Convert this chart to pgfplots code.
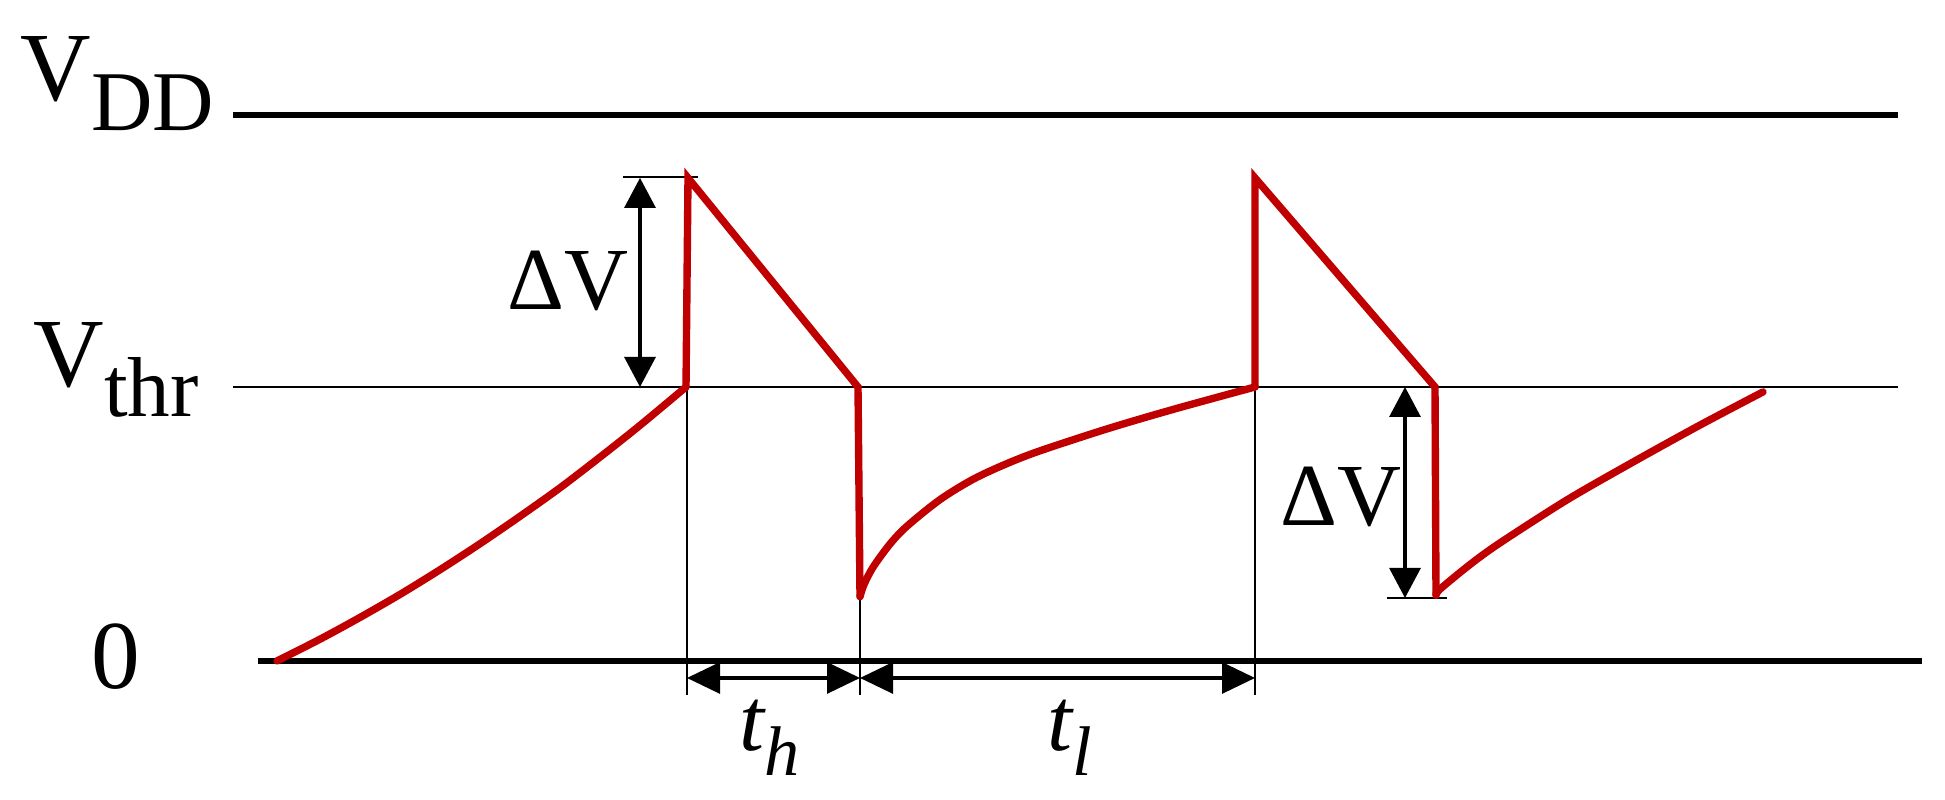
\documentclass[border=0pt]{standalone}
\usepackage{pgfplots}
\pgfplotsset{compat=1.18}
\usepackage{fontspec}
\setmainfont{Liberation Serif}
\usetikzlibrary{arrows.meta}

\definecolor{wave}{RGB}{192,0,0}

% x in picture units (0.1 mm), y in "volts": 0 = ground, 1 = Vthr, ~2 = VDD
\begin{document}
\begin{tikzpicture}
\begin{axis}[
    name=ax,
    width=19.45cm, height=8cm,
    scale only axis,
    xmin=0, xmax=1945,
    ymin=-0.5073, ymax=2.4124,
    hide axis,
    clip=false,
]
% rails
\addplot[black, line width=1.7pt] coordinates {(233,1.993) (1898,1.993)};
\addplot[black, line width=0.55pt] coordinates {(233,1) (1898,1)};
\addplot[black, line width=1.7pt] coordinates {(258,0) (1922,0)};

% extension lines
\addplot[black, line width=0.55pt] coordinates {(687,1) (687,-0.124)};
\addplot[black, line width=0.55pt] coordinates {(860,0.235) (860,-0.124)};
\addplot[black, line width=0.55pt] coordinates {(1255,1) (1255,-0.124)};
\addplot[black, line width=0.55pt] coordinates {(623,1.766) (698,1.766)};
\addplot[black, line width=0.55pt] coordinates {(1387,0.23) (1447,0.23)};

% membrane voltage: charging curves (smooth) and spike/reset edges (straight)
\pgfplotsset{wavestyle/.style={wave, line width=2.1pt, line cap=round, line join=miter}}
\addplot[wavestyle, smooth] coordinates {
    (277,0) (320,0.0795) (360,0.159) (400,0.243) (440,0.333) (480,0.428)
    (520,0.528) (560,0.632) (600,0.744) (640,0.860) (686,1.0)
};
\addplot[wavestyle] coordinates {(686,1.0) (688,1.763) (858,1.0) (860,0.235)};
\addplot[wavestyle, smooth] coordinates {
    (860,0.235) (864,0.279) (873,0.342) (890,0.427) (907,0.492) (940,0.589)
    (973,0.663) (1006,0.719) (1040,0.767) (1107,0.847) (1173,0.918) (1255,1.0)
};
\addplot[wavestyle] coordinates {(1255,1.0) (1255,1.763) (1435,1.0) (1436,0.24)};
\addplot[wavestyle, smooth] coordinates {
    (1436,0.24) (1440,0.262) (1470,0.352) (1500,0.431) (1567,0.588) (1633,0.726)
    (1700,0.861) (1763,0.982)
};

% dimension arrows
\draw[black, line width=0.9pt, {Triangle[length=3mm,width=3.1mm]}-{Triangle[length=3mm,width=3.1mm]}]
    (axis cs:640,1.763) -- (axis cs:640,1.0);
\draw[black, line width=0.9pt, {Triangle[length=3mm,width=3.1mm]}-{Triangle[length=3mm,width=3.1mm]}]
    (axis cs:1405,1.0) -- (axis cs:1405,0.23);
\draw[black, line width=0.9pt, {Triangle[length=3.3mm,width=3.1mm]}-{Triangle[length=3.3mm,width=3.1mm]}]
    (axis cs:687,-0.062) -- (axis cs:860,-0.062);
\draw[black, line width=0.9pt, {Triangle[length=3.3mm,width=3.1mm]}-{Triangle[length=3.3mm,width=3.1mm]}]
    (axis cs:860,-0.062) -- (axis cs:1255,-0.062);

% labels
\node[anchor=base west, inner sep=0] at (axis cs:20,2.047)
    {\fontsize{27.8}{28}\selectfont V\raisebox{-0.30cm}{\fontsize{24.2}{25}\selectfont DD}};
\node[anchor=base west, inner sep=0] at (axis cs:33,1.0)
    {\fontsize{27.8}{28}\selectfont V\raisebox{-0.30cm}{\fontsize{24.2}{25}\selectfont thr}};
\node[anchor=base, inner sep=0] at (axis cs:116,-0.102)
    {\fontsize{27.7}{28}\selectfont 0};
\node[anchor=base west, inner sep=0] at (axis cs:507,1.281)
    {\fontsize{25.2}{26}\selectfont ΔV};
\node[anchor=base west, inner sep=0] at (axis cs:1280,0.493)
    {\fontsize{25.2}{26}\selectfont ΔV};
\node[anchor=base west, inner sep=0] at (axis cs:739,-0.325)
    {\fontsize{25.5}{26}\selectfont\itshape t\raisebox{-0.25cm}{\fontsize{20}{21}\selectfont h}};
\node[anchor=base west, inner sep=0] at (axis cs:1047,-0.325)
    {\fontsize{25.5}{26}\selectfont\itshape t\raisebox{-0.25cm}{\fontsize{20}{21}\selectfont l}};
\end{axis}
\pgfresetboundingbox
\path (ax.south west) rectangle (ax.north east);
\end{tikzpicture}
\end{document}
